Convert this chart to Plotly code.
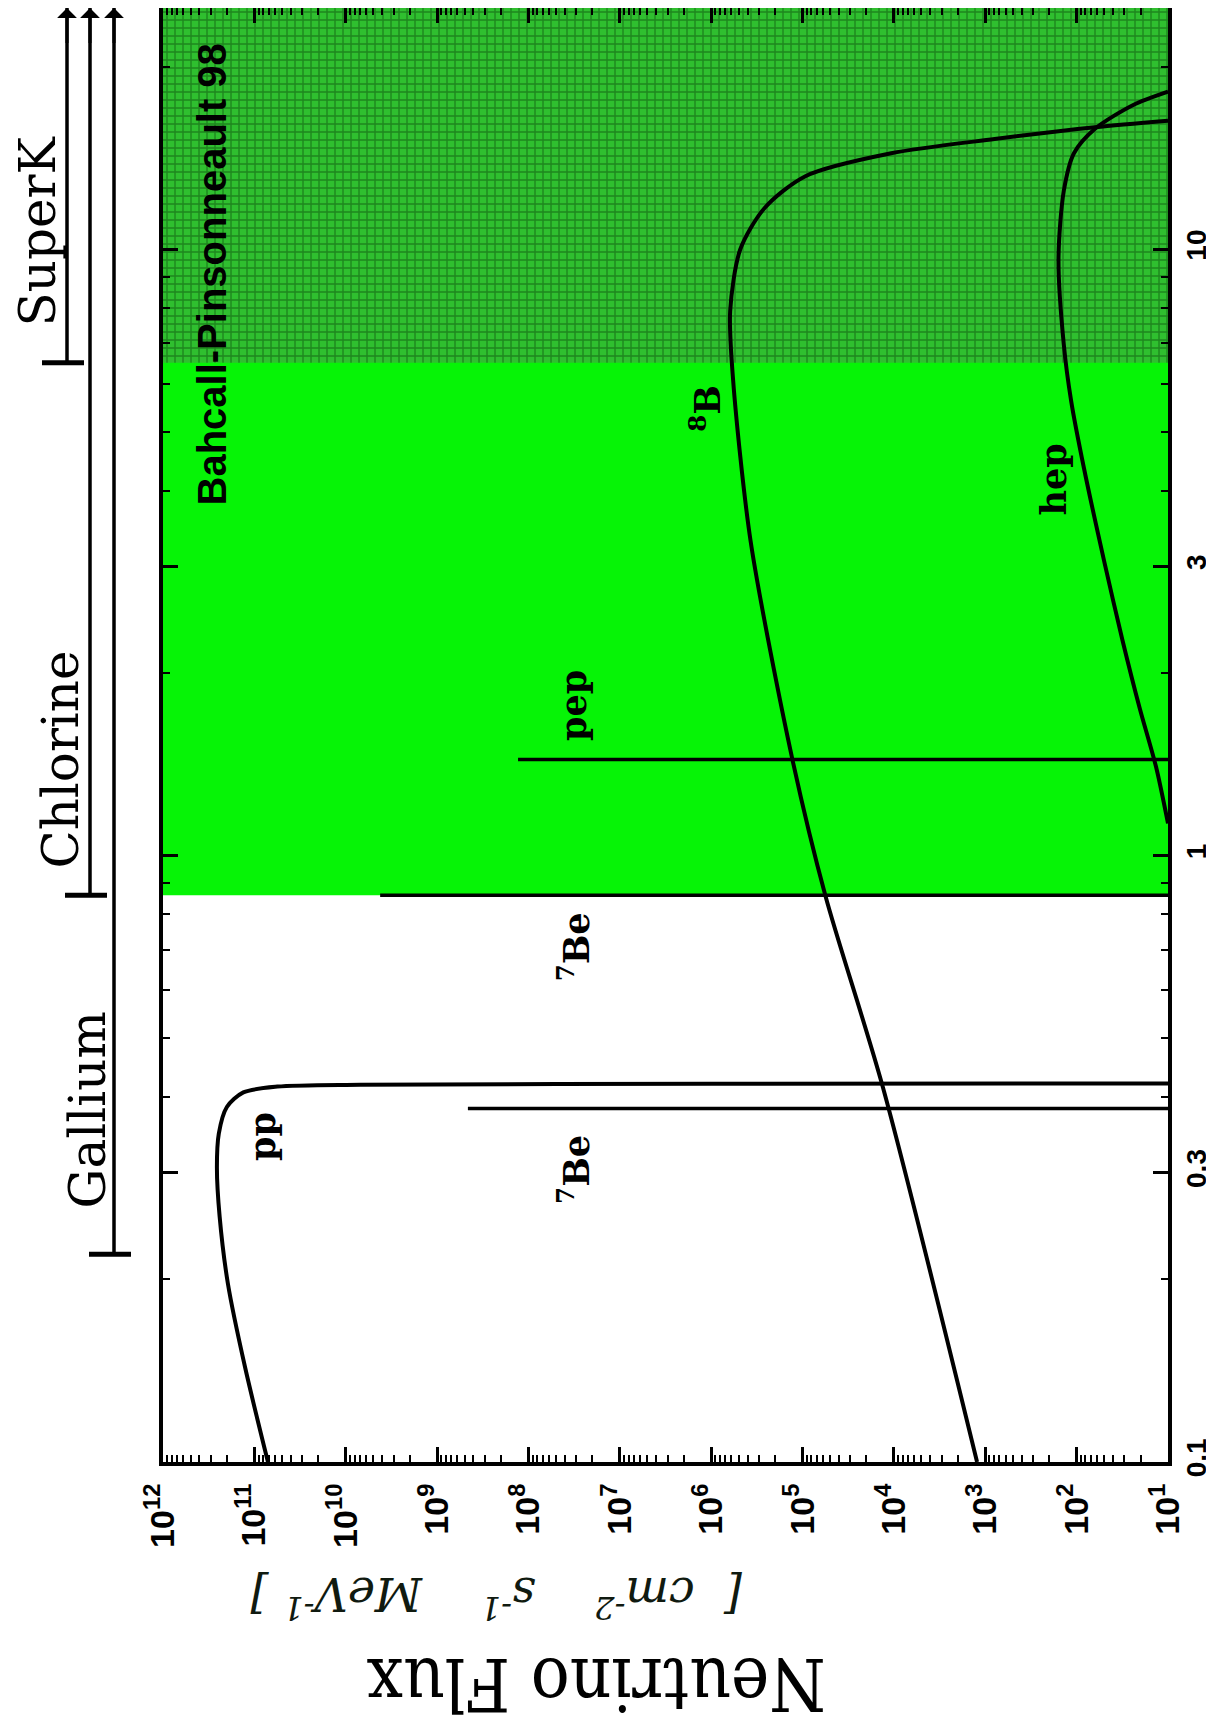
import numpy as np
import plotly.graph_objects as go

# ---------------- data ----------------
flux_exponents = list(range(1, 13))                      # flux axis decades 10^1 .. 10^12
energy_ticks = [0.1, 0.3, 1, 3, 10]
energy_tick_text = ["0.1", "0.3", "1", "3", "10"]

# pp continuum  (E in MeV, flux in cm^-2 s^-1 MeV^-1)
pp_E = [0.1, 0.143, 0.197, 0.254, 0.306, 0.348, 0.385, 0.407, 0.416, 0.419, 0.4205, 0.421]
pp_flux = [7.1e10, 1.26e11, 1.95e11, 2.4e11, 2.57e11, 2.45e11, 2.0e11, 1.32e11, 5.6e10, 6.9e9, 1.0e6, 10]

# 8B continuum
b8_E = [0.1, 0.415, 0.857, 1.44, 3.30, 6.08, 7.91, 10.0, 11.7, 13.2, 14.4, 15.2, 15.9, 16.3]
b8_flux = [1.23e3, 1.32e4, 5.6e4, 1.29e5, 3.7e5, 5.75e5, 6.2e5, 4.8e5, 2.6e5, 9.3e4, 1.07e4, 7.9e2, 63, 10]

# hep continuum
hep_E = [1.13, 1.40, 1.75, 2.27, 3.02, 4.35, 5.63, 6.95, 9.64, 12.5, 14.4, 15.8, 17.3, 18.2]
hep_flux = [10, 13.5, 20.4, 31.6, 49, 83, 115, 138, 158, 138, 107, 63, 24, 10]

# line sources (cm^-2 s^-1)
line_names = ["7Be", "7Be", "pep"]
line_E = [0.383, 0.86, 1.44]
line_flux = [4.6e8, 4.2e9, 1.3e8]

# experiment thresholds (MeV)
experiments = ["Gallium", "Chlorine", "SuperK"]
thresholds = [0.22, 0.86, 6.5]

E_MIN, E_MAX = 0.1, 25.0
FLUX_MIN_EXP, FLUX_MAX_EXP = 1, 12

# ---------------- layout constants ----------------
OFF = 8                              # default page body margin
W, H = 1214 - OFF, 1730 - OFF
ML, MR, MT, MB = 0, 46, 0, 268
PLOT_W = W - ML - MR
PLOT_H = H - MT - MB
PANEL_W = 155                        # px of the experiment panel
main_dom = [PANEL_W / PLOT_W, 1.0]
exp_x = {"Gallium": 106, "Chlorine": 82, "SuperK": 59}       # panel coords
exp_label_x = {"Gallium": 80, "Chlorine": 53, "SuperK": 30}
exp_label_E = {"Gallium": 0.38, "Chlorine": 1.44, "SuperK": 10.7}


def paper_xy(px, py):
    """page pixel -> paper coordinates"""
    return (px - OFF - ML) / PLOT_W, (PLOT_H - (py - OFF - MT)) / PLOT_H


fig = go.Figure()

fmin, fmax = 10.0 ** FLUX_MIN_EXP, 10.0 ** FLUX_MAX_EXP

# bright green region (above Chlorine threshold)
fig.add_trace(go.Scatter(
    x=[fmax, fmin, fmin, fmax, fmax], y=[thresholds[1], thresholds[1], E_MAX, E_MAX, thresholds[1]],
    mode="lines", line=dict(width=0), fill="toself", fillcolor="#06f406",
    hoverinfo="skip", showlegend=False))
# dark textured region (above SuperK threshold)
fig.add_trace(go.Scatter(
    x=[fmax, fmin, fmin, fmax, fmax], y=[thresholds[2], thresholds[2], E_MAX, E_MAX, thresholds[2]],
    mode="lines", line=dict(width=0), fill="toself", fillcolor="#30b030",
    fillpattern=dict(shape="+", bgcolor="#2fbf2f", fgcolor="#0d4d0d", size=8, solidity=0.32),
    hoverinfo="skip", showlegend=False))

curve_style = dict(color="black", width=4, shape="spline", smoothing=0.8)
for E, F in [(pp_E, pp_flux), (b8_E, b8_flux), (hep_E, hep_flux)]:
    fig.add_trace(go.Scatter(x=F, y=E, mode="lines", line=curve_style,
                             hoverinfo="skip", showlegend=False))

for E, F in zip(line_E, line_flux):
    fig.add_trace(go.Scatter(x=[F, fmin], y=[E, E], mode="lines",
                             line=dict(color="black", width=3.5),
                             hoverinfo="skip", showlegend=False))

# experiment threshold bars in the side panel
for name, thr in zip(experiments, thresholds):
    px = exp_x[name]
    fig.add_trace(go.Scatter(x=[px, px], y=[thr, E_MAX], xaxis="x2", yaxis="y",
                             mode="lines", line=dict(color="black", width=3.5),
                             hoverinfo="skip", showlegend=False))
    fig.add_trace(go.Scatter(x=[px - 25, px + 17], y=[thr, thr], xaxis="x2", yaxis="y",
                             mode="lines", line=dict(color="black", width=5),
                             hoverinfo="skip", showlegend=False))

annotations = []
top_log = np.log10(E_MAX)
for name, thr in zip(experiments, thresholds):
    px = exp_x[name]
    annotations.append(dict(x=px, y=top_log, xref="x2", yref="y",
                            ax=px, ay=top_log - 0.06, axref="x2", ayref="y",
                            text="", showarrow=True, arrowhead=1, arrowsize=1.1,
                            arrowwidth=3, arrowcolor="black", standoff=0))
    annotations.append(dict(x=exp_label_x[name], y=np.log10(exp_label_E[name]),
                            xref="x2", yref="y", text=name, showarrow=False,
                            textangle=-90, xanchor="center", yanchor="middle",
                            font=dict(family="DejaVu Serif", size=50, color="black")))

lab_font = dict(family="DejaVu Serif", size=35, color="black", weight="bold")
spectrum_labels = [
    ("pp", 10.905, -0.464),
    ("<sup>7</sup>Be", 7.50, -0.518),
    ("<sup>7</sup>Be", 7.50, -0.151),
    ("pep", 7.50, 0.247),
    ("<sup>8</sup>B", 6.06, 0.738),
    ("hep", 2.25, 0.620),
]
for txt, lx, ly in spectrum_labels:
    annotations.append(dict(x=lx, y=ly, xref="x", yref="y", text=txt,
                            showarrow=False, textangle=-90,
                            xanchor="center", yanchor="middle", font=lab_font))

annotations.append(dict(x=11.46, y=0.959, xref="x", yref="y",
                        text="Bahcall-Pinsonneault 98", showarrow=False, textangle=-90,
                        xanchor="center", yanchor="middle",
                        font=dict(family="Liberation Sans", size=40, color="black",
                                  weight="bold")))

tx, ty = paper_xy(596, 1684)
annotations.append(dict(x=tx, y=ty, xref="paper", yref="paper",
                        text="Neutrino Flux", showarrow=False, textangle=180,
                        xanchor="center", yanchor="middle",
                        font=dict(family="DejaVu Serif Condensed, DejaVu Serif", size=72,
                                  color="black")))
ux, uy = paper_xy(497, 1597)
annotations.append(dict(x=ux, y=uy, xref="paper", yref="paper",
                        text="[  cm<sup>-2</sup>    s<sup>-1</sup>    MeV<sup>-1</sup> ]",
                        showarrow=False, textangle=180,
                        xanchor="center", yanchor="middle",
                        font=dict(family="DejaVu Serif", size=46, color="#101a10",
                                  style="italic")))

flux_minor = [m * 10.0 ** k for k in range(FLUX_MIN_EXP, FLUX_MAX_EXP) for m in range(2, 10)]
energy_minor = [m * 10.0 ** k for k in (-1, 0, 1) for m in range(2, 10)
                if E_MIN < m * 10.0 ** k < E_MAX]

axis_common = dict(showgrid=False, zeroline=False, showline=True, linecolor="black",
                   linewidth=4, mirror="ticks", ticks="inside", ticklen=15,
                   tickwidth=2.5, tickcolor="black", automargin=False)

fig.update_layout(
    width=W, height=H,
    margin=dict(l=ML, r=MR, t=MT, b=MB, autoexpand=False),
    paper_bgcolor="white", plot_bgcolor="white",
    showlegend=False,
    xaxis=dict(type="log", range=[FLUX_MAX_EXP, FLUX_MIN_EXP], domain=main_dom,
               anchor="y",
               tickvals=[10.0 ** k for k in flux_exponents],
               ticktext=[f"10<sup>{k}</sup>" for k in flux_exponents],
               tickangle=-90, ticklabelstandoff=4,
               tickfont=dict(family="Liberation Sans", size=34, color="black", weight="bold"),
               minor=dict(tickvals=flux_minor, ticklen=7, tickwidth=2, ticks="inside",
                          tickcolor="black"),
               **axis_common),
    xaxis2=dict(domain=[0, main_dom[0]], range=[0, PANEL_W], anchor="y", visible=False,
                fixedrange=True),
    yaxis=dict(type="log", range=[np.log10(E_MIN), np.log10(E_MAX)], anchor="x",
               side="right", domain=[0, 1],
               tickvals=energy_ticks, ticktext=energy_tick_text,
               tickangle=-90, ticklabelstandoff=0,
               tickfont=dict(family="Liberation Sans", size=28, color="black", weight="bold"),
               minor=dict(tickvals=energy_minor, ticklen=7, tickwidth=2, ticks="inside",
                          tickcolor="black"),
               **axis_common),
    annotations=annotations,
)

fig.write_html("out.html")
